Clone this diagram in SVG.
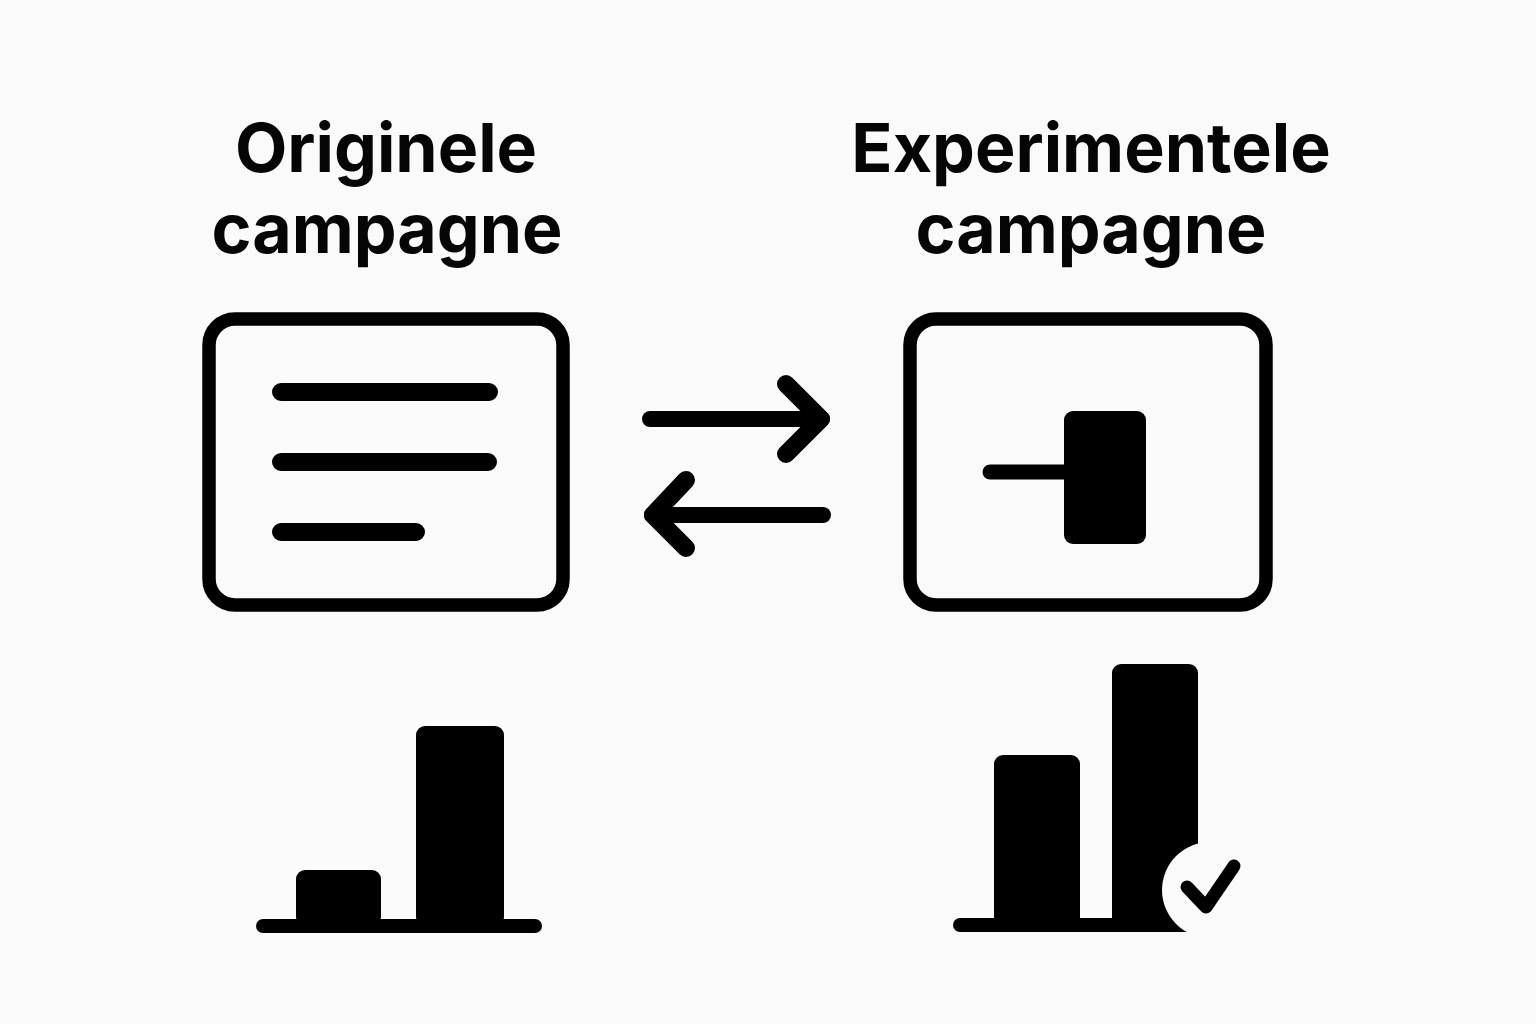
<svg xmlns="http://www.w3.org/2000/svg" width="1536" height="1024" viewBox="0 0 1536 1024">
<style>
.t{font-family:"Inter","Liberation Sans",sans-serif;font-weight:700;font-size:68px;fill:#050505;text-anchor:middle}
.o{fill:none;stroke:#000;stroke-linecap:round;stroke-linejoin:round}
.f{fill:#000}
</style>
<rect width="1536" height="1024" fill="#fafafa"/>
<g id="original">
<text class="t" x="386" y="172">Originele</text>
<text class="t" x="387" y="253">campagne</text>
<rect class="o" x="209" y="319" width="354" height="286" rx="26" stroke-width="13.500"/>
<path class="o" stroke-width="18" d="M281 392H489M281 462H488M281 532H416"/>
</g>
<g id="experimental">
<text class="t" x="1091" y="172">Experimentele</text>
<text class="t" x="1091" y="253">campagne</text>
<rect class="o" x="910" y="319" width="356" height="286" rx="26" stroke-width="13.500"/>
<path class="o" stroke-width="15" d="M990 472H1070"/>
<rect class="f" x="1064" y="411" width="82" height="133" rx="9"/>
</g>
<g id="connectors">
<path class="o" stroke-width="16" d="M650 419H822"/>
<path class="o" stroke-width="18" d="M786 384L821 419L786 454"/>
<path class="o" stroke-width="16" d="M823 515H652"/>
<path class="o" stroke-width="18" d="M686 480L653 515L686 548"/>
</g>
<g id="chart-original">
<path class="o" stroke-width="14" d="M263 926H535"/>
<rect class="f" x="296" y="870" width="85" height="56" rx="9"/>
<rect class="f" x="416" y="726" width="88" height="200" rx="9"/>
</g>
<g id="chart-experimental">
<path class="o" stroke-width="14" d="M960 925H1200"/>
<rect class="f" x="994" y="755" width="86" height="172" rx="9"/>
<rect class="f" x="1112" y="664" width="86" height="264" rx="9"/>
<circle cx="1210" cy="890" r="48" fill="#fafafa"/>
<path d="M1160 933H1210V940H1160Z" fill="#fafafa"/>
<path class="o" stroke-width="13" d="M1187 887L1206 907L1234 866"/>
</g>
</svg>
